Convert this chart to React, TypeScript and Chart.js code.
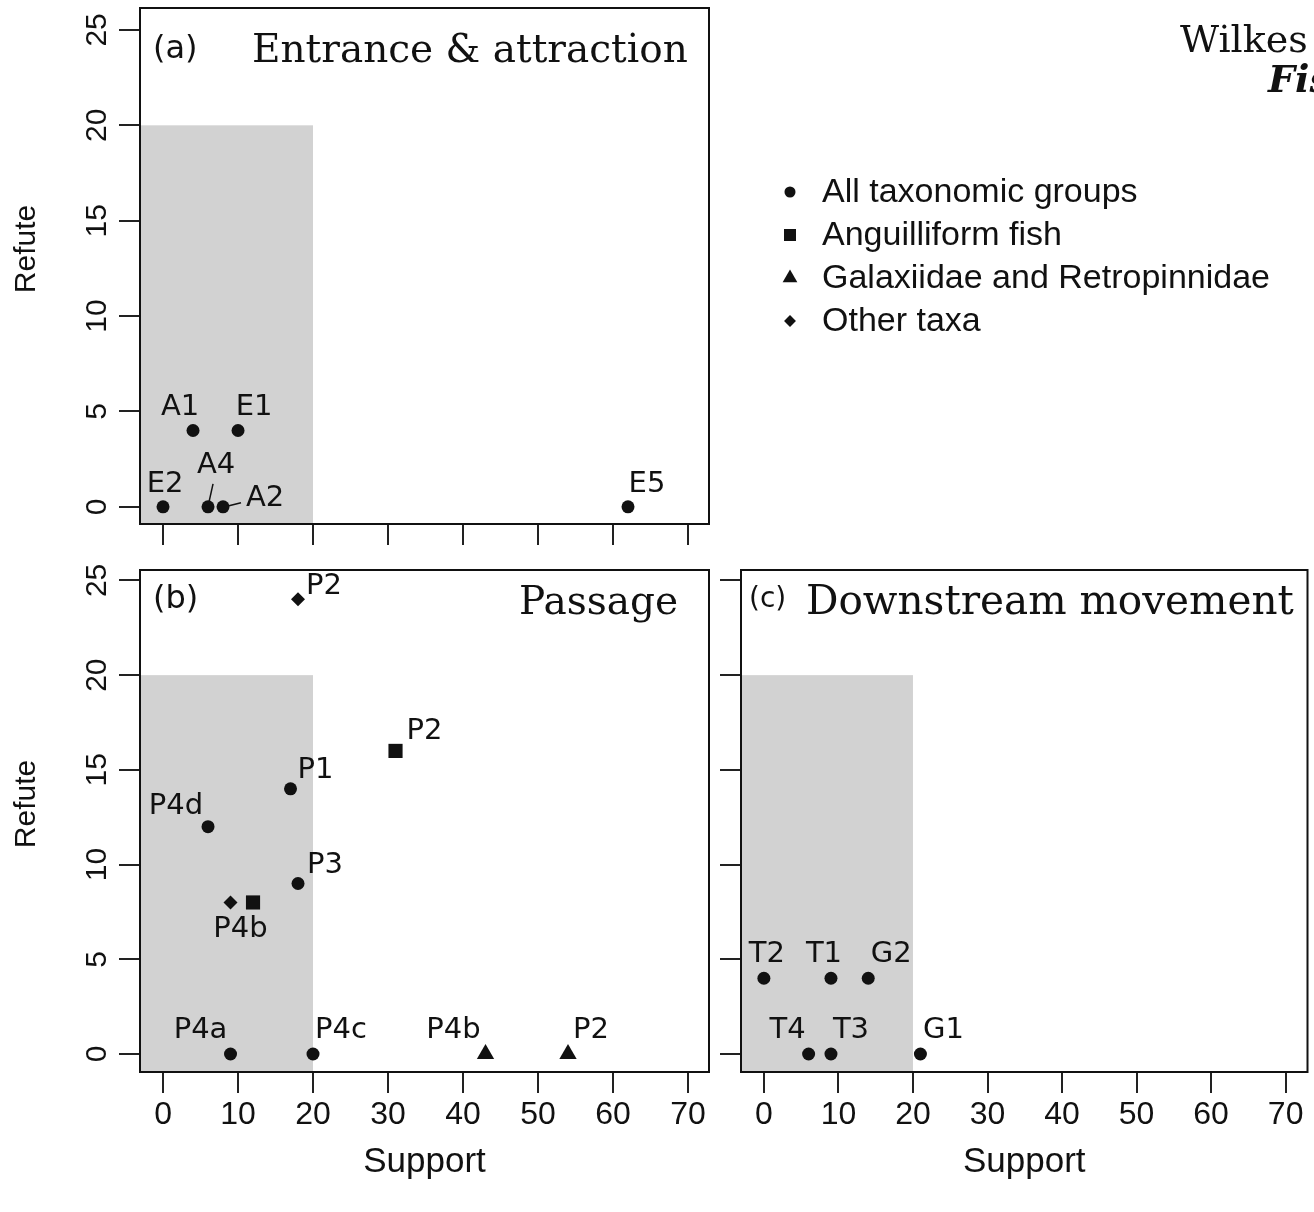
import React, { useEffect, useRef } from "react";
import { Chart, registerables } from "chart.js";

Chart.register(...registerables);

// ---------------- data ----------------
const X_TICKS = [0, 10, 20, 30, 40, 50, 60, 70];
const Y_TICKS = [0, 5, 10, 15, 20, 25];
const SHADE_SUPPORT_MAX = 20;
const SHADE_REFUTE_MAX = 20;

const GROUP_KEYS = ["all", "ang", "gal", "oth"];
const GROUP_NAMES = [
  "All taxonomic groups",
  "Anguilliform fish",
  "Galaxiidae and Retropinnidae",
  "Other taxa",
];

// (a) Entrance & attraction
const A_LABELS = ["A1", "E1", "E2", "A4", "A2", "E5"];
const A_SUPPORT = [4, 10, 0, 6, 8, 62];
const A_REFUTE = [4, 4, 0, 0, 0, 0];
const A_GROUP = ["all", "all", "all", "all", "all", "all"];

// (b) Passage
const B_LABELS = ["P2", "P2", "P1", "P4d", "P3", "P4b", "", "P4a", "P4c", "P4b", "P2"];
const B_SUPPORT = [18, 31, 17, 6, 18, 9, 12, 9, 20, 43, 54];
const B_REFUTE = [24, 16, 14, 12, 9, 8, 8, 0, 0, 0, 0];
const B_GROUP = ["oth", "ang", "all", "all", "all", "oth", "ang", "all", "all", "gal", "gal"];

// (c) Downstream movement
const C_LABELS = ["T2", "T1", "G2", "T4", "T3", "G1"];
const C_SUPPORT = [0, 9, 14, 6, 9, 21];
const C_REFUTE = [4, 4, 4, 0, 0, 0];
const C_GROUP = ["all", "all", "all", "all", "all", "all"];

// ---------------- styles ----------------
const SANS = '"Liberation Sans", Arial, Helvetica, sans-serif';
const LABEL_SANS = '"DejaVu Sans", sans-serif';
const SERIF = '"DejaVu Serif", serif';
const INK = "#111111";
const TICK_INK = "#222222";
const SHADE = "#d2d2d2";

const MARKERS: Record<string, { style: string; r: number }> = {
  all: { style: "circle", r: 6.5 },
  ang: { style: "rect", r: 10 },
  gal: { style: "triangle", r: 10 },
  oth: { style: "rectRot", r: 7 },
};

// label offsets (px, label centre relative to the point)
const A_OFFSETS = [[-13, -23], [16, -23], [2, -22], [8, -41], [42, -8], [19, -22]];
const A_LEADERS: (number[][] | null)[] = [null, null, null, [[1, -5], [5, -23]], [[6, -1], [18, -4]], null];
const B_OFFSETS = [[26, -13], [29, -19], [25, -18], [-32, -20], [27, -18], [10, 27], [0, 0], [-30, -24], [28, -24], [-32, -24], [23, -24]];
const C_OFFSETS = [[3, -24], [-7, -24], [23, -24], [-21, -24], [20, -24], [23, -24]];

type PanelSpec = {
  labels: string[];
  support: number[];
  refute: number[];
  groups: string[];
  offsets: number[][];
  leaders?: (number[][] | null)[];
  padding: { left: number; top: number; right: number; bottom: number };
  yWidth: number;
  xHeight: number;
  xMin: number;
  xMax: number;
  yMin: number;
  yMax: number;
  xTickLabels: boolean;
  yTickLabels: boolean;
  xTitle: boolean;
  yTitle: boolean;
  tag: string;
  tagFont: number;
  tagPos: number[];
  title: string;
  titleFont: number;
  titlePos: number[];
  titleAlign: CanvasTextAlign;
  legend?: boolean;
  header?: boolean;
};

function drawMarker(ctx: CanvasRenderingContext2D, style: string, x: number, y: number, r: number) {
  ctx.beginPath();
  if (style === "circle") {
    ctx.arc(x, y, r, 0, Math.PI * 2);
  } else if (style === "rect") {
    const s = r * Math.SQRT1_2;
    ctx.rect(x - s, y - s, 2 * s, 2 * s);
  } else if (style === "triangle") {
    for (let k = 0; k < 3; k++) {
      const a = (k * 2 * Math.PI) / 3;
      const px = x + Math.sin(a) * r;
      const py = y - Math.cos(a) * r;
      if (k === 0) ctx.moveTo(px, py);
      else ctx.lineTo(px, py);
    }
  } else {
    ctx.moveTo(x - r, y);
    ctx.lineTo(x, y - r);
    ctx.lineTo(x + r, y);
    ctx.lineTo(x, y + r);
  }
  ctx.closePath();
  ctx.fill();
}

function makeConfig(p: PanelSpec): any {
  const datasets = GROUP_KEYS.map((g, gi) => {
    const idx = p.groups.map((gg, i) => (gg === g ? i : -1)).filter((i) => i >= 0);
    return {
      label: GROUP_NAMES[gi],
      data: idx.map((i) => ({ x: p.support[i], y: p.refute[i] })),
      pointLabels: idx.map((i) => p.labels[i]),
      labelOffsets: idx.map((i) => p.offsets[i]),
      leaders: idx.map((i) => (p.leaders ? p.leaders[i] : null)),
      pointStyle: MARKERS[g].style,
      pointRadius: MARKERS[g].r,
      pointHoverRadius: MARKERS[g].r,
      backgroundColor: INK,
      borderColor: INK,
      borderWidth: 0,
      showLine: false,
    };
  }).filter((d) => d.data.length > 0);

  const decor = {
    id: "panelDecor",
    beforeDatasetsDraw(chart: any) {
      const { ctx, chartArea, scales } = chart;
      const xr = scales.x.getPixelForValue(SHADE_SUPPORT_MAX);
      const yt = scales.y.getPixelForValue(SHADE_REFUTE_MAX);
      ctx.save();
      ctx.fillStyle = SHADE;
      ctx.fillRect(chartArea.left, yt, xr - chartArea.left, chartArea.bottom - yt);
      ctx.restore();
    },
    afterDatasetsDraw(chart: any) {
      const { ctx } = chart;
      ctx.save();
      ctx.fillStyle = INK;
      ctx.strokeStyle = INK;
      ctx.lineWidth = 1.5;
      ctx.font = `29px ${LABEL_SANS}`;
      ctx.textAlign = "center";
      ctx.textBaseline = "middle";
      chart.data.datasets.forEach((ds: any, di: number) => {
        const meta = chart.getDatasetMeta(di);
        meta.data.forEach((el: any, i: number) => {
          const txt = ds.pointLabels[i];
          const off = ds.labelOffsets[i];
          if (txt) ctx.fillText(txt, el.x + off[0], el.y + off[1]);
          const ld = ds.leaders[i];
          if (ld) {
            ctx.beginPath();
            ctx.moveTo(el.x + ld[0][0], el.y + ld[0][1]);
            ctx.lineTo(el.x + ld[1][0], el.y + ld[1][1]);
            ctx.stroke();
          }
        });
      });
      ctx.restore();
    },
    afterDraw(chart: any) {
      const { ctx, chartArea } = chart;
      const { left, top, right, bottom } = chartArea;
      ctx.save();
      ctx.strokeStyle = INK;
      ctx.lineWidth = 2;
      ctx.strokeRect(left, top, right - left, bottom - top);

      ctx.fillStyle = INK;
      // y-axis title
      if (p.yTitle) {
        ctx.save();
        ctx.translate(27, (top + bottom) / 2 - 17);
        ctx.rotate(-Math.PI / 2);
        ctx.font = `30px ${SANS}`;
        ctx.textAlign = "center";
        ctx.textBaseline = "middle";
        ctx.fillText("Refute", 0, 0);
        ctx.restore();
      }

      ctx.textBaseline = "alphabetic";
      ctx.textAlign = "left";
      ctx.font = `${p.tagFont}px ${LABEL_SANS}`;
      ctx.fillText(p.tag, left + p.tagPos[0], top + p.tagPos[1]);
      ctx.font = `${p.titleFont}px ${SERIF}`;
      ctx.textAlign = p.titleAlign;
      const tx = p.titleAlign === "right" ? right + p.titlePos[0] : left + p.titlePos[0];
      ctx.fillText(p.title, tx, top + p.titlePos[1]);

      if (p.legend) {
        ctx.textAlign = "left";
        ctx.textBaseline = "middle";
        ctx.font = `34px ${SANS}`;
        GROUP_KEYS.forEach((g, gi) => {
          const y = 192 + gi * 43;
          drawMarker(ctx, MARKERS[g].style, 790, y, MARKERS[g].r * 0.85);
          ctx.fillText(GROUP_NAMES[gi], 822, y + 1);
        });
      }
      if (p.header) {
        ctx.textAlign = "left";
        ctx.textBaseline = "alphabetic";
        ctx.font = `38px ${SERIF}`;
        ctx.fillText("Wilkes", 1180, 52);
        ctx.font = `italic bold 38px ${SERIF}`;
        ctx.fillText("Fis", 1268, 92);
      }
      ctx.restore();
    },
  };

  const gridOpts = {
    display: true,
    drawOnChartArea: false,
    drawTicks: true,
    tickLength: 21,
    tickWidth: 2,
    tickColor: TICK_INK,
    lineWidth: 2,
    color: TICK_INK,
  };

  return {
    type: "scatter",
    data: { datasets },
    plugins: [decor],
    options: {
      responsive: false,
      maintainAspectRatio: false,
      animation: false,
      events: [],
      layout: { padding: p.padding },
      plugins: { legend: { display: false }, tooltip: { enabled: false } },
      scales: {
        x: {
          type: "linear",
          min: p.xMin,
          max: p.xMax,
          afterBuildTicks: (s: any) => {
            s.ticks = X_TICKS.map((v) => ({ value: v }));
          },
          afterFit: (s: any) => {
            s.height = p.xHeight;
            s.paddingLeft = 0;
            s.paddingRight = 0;
            s.paddingTop = 0;
            s.paddingBottom = 0;
          },
          grid: gridOpts,
          border: { display: false },
          ticks: {
            display: p.xTickLabels,
            autoSkip: false,
            minRotation: 0,
            maxRotation: 0,
            padding: 3,
            color: INK,
            font: { family: SANS, size: 32 },
            callback: (v: any) => String(v),
          },
          title: {
            display: p.xTitle,
            text: "Support",
            color: INK,
            font: { family: SANS, size: 35 },
            padding: { top: 0, bottom: 29 },
          },
        },
        y: {
          type: "linear",
          min: p.yMin,
          max: p.yMax,
          afterBuildTicks: (s: any) => {
            s.ticks = Y_TICKS.map((v) => ({ value: v }));
          },
          afterFit: (s: any) => {
            s.width = p.yWidth;
            s.paddingLeft = 0;
            s.paddingRight = 0;
            s.paddingTop = 0;
            s.paddingBottom = 0;
          },
          grid: gridOpts,
          border: { display: false },
          ticks: {
            display: p.yTickLabels,
            autoSkip: false,
            minRotation: 90,
            maxRotation: 90,
            crossAlign: "center",
            padding: 5,
            color: INK,
            font: { family: SANS, size: 30 },
            callback: (v: any) => String(v),
          },
          title: { display: false },
        },
      },
    },
  };
}

const PANEL_A: PanelSpec = {
  labels: A_LABELS, support: A_SUPPORT, refute: A_REFUTE, groups: A_GROUP,
  offsets: A_OFFSETS, leaders: A_LEADERS,
  padding: { left: 0, top: 8, right: 605, bottom: 0 },
  yWidth: 140, xHeight: 36,
  xMin: -3.07, xMax: 72.8, yMin: -0.9, yMax: 26.15,
  xTickLabels: false, yTickLabels: true, xTitle: false, yTitle: true,
  tag: "(a)", tagFont: 32, tagPos: [13, 50], title: "Entrance & attraction", titleFont: 39, titlePos: [112, 54], titleAlign: "left",
  legend: true, header: true,
};

const PANEL_B: PanelSpec = {
  labels: B_LABELS, support: B_SUPPORT, refute: B_REFUTE, groups: B_GROUP,
  offsets: B_OFFSETS,
  padding: { left: 0, top: 10, right: 11, bottom: 0 },
  yWidth: 140, xHeight: 140,
  xMin: -3.07, xMax: 72.8, yMin: -0.95, yMax: 25.55,
  xTickLabels: true, yTickLabels: true, xTitle: true, yTitle: true,
  tag: "(b)", tagFont: 32, tagPos: [13, 38], title: "Passage", titleFont: 39, titlePos: [-31, 44], titleAlign: "right",
};

const PANEL_C: PanelSpec = {
  labels: C_LABELS, support: C_SUPPORT, refute: C_REFUTE, groups: C_GROUP,
  offsets: C_OFFSETS,
  padding: { left: 0, top: 10, right: 3, bottom: 0 },
  yWidth: 21, xHeight: 140,
  xMin: -3.07, xMax: 72.93, yMin: -0.95, yMax: 25.55,
  xTickLabels: true, yTickLabels: false, xTitle: true, yTitle: false,
  tag: "(c)", tagFont: 28, tagPos: [8, 37], title: "Downstream movement", titleFont: 40.5, titlePos: [65, 44], titleAlign: "left",
};

function Panel(props: { spec: PanelSpec; left: number; top: number; width: number; height: number }) {
  const ref = useRef<HTMLCanvasElement>(null);
  useEffect(() => {
    const chart = new Chart(ref.current as HTMLCanvasElement, makeConfig(props.spec));
    return () => chart.destroy();
  }, []);
  return (
    <canvas
      ref={ref}
      width={props.width}
      height={props.height}
      style={{ position: "absolute", left: props.left, top: props.top, width: props.width, height: props.height }}
    />
  );
}

export default function App() {
  return (
    <div style={{ position: "absolute", left: 0, top: 0, width: 1314, height: 1212, background: "#ffffff", overflow: "hidden" }}>
      <Panel spec={PANEL_A} left={0} top={0} width={1314} height={560} />
      <Panel spec={PANEL_B} left={0} top={560} width={720} height={652} />
      <Panel spec={PANEL_C} left={720} top={560} width={594} height={652} />
    </div>
  );
}
